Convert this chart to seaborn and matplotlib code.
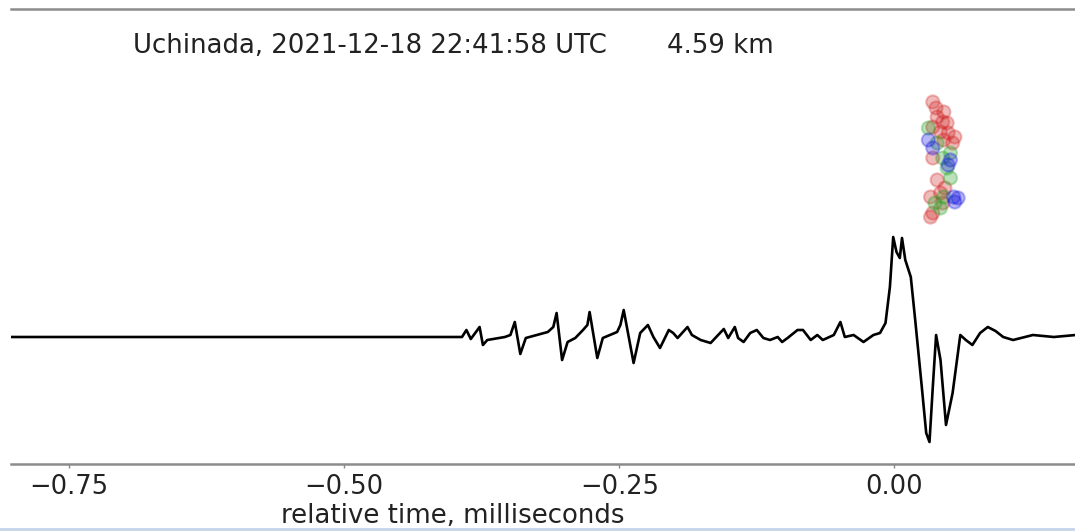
import matplotlib
matplotlib.use("Agg")
import matplotlib.pyplot as plt
from matplotlib.patches import Rectangle
import seaborn as sns
import pandas as pd

# Waveform: time (ms) relative to the return stroke, and normalised field amplitude
wave_t = [-0.803, -0.393, -0.389, -0.385, -0.377, -0.374, -0.370,
          -0.354, -0.349, -0.345, -0.340, -0.335,
          -0.315, -0.310, -0.307, -0.302, -0.297, -0.290,
          -0.283, -0.279, -0.277, -0.270, -0.265,
          -0.252, -0.249, -0.246, -0.237, -0.231,
          -0.224, -0.219, -0.213, -0.205, -0.201, -0.197, -0.188, -0.184, -0.176, -0.167,
          -0.155, -0.151, -0.145, -0.142, -0.137, -0.131, -0.125, -0.119, -0.113, -0.106,
          -0.102, -0.097, -0.088, -0.083, -0.076, -0.070, -0.065, -0.055, -0.049, -0.045,
          -0.037, -0.028, -0.019, -0.013,
          -0.008, -0.004, -0.001, 0.002, 0.005, 0.007, 0.010, 0.015, 0.019, 0.025,
          0.029, 0.032, 0.035, 0.038, 0.042, 0.047, 0.053, 0.060, 0.065, 0.071,
          0.078, 0.085, 0.092, 0.099, 0.108, 0.126, 0.145, 0.165]
wave_amp = [0.0, 0.0, 0.07, -0.02, 0.10, -0.08, -0.03,
            0.0, 0.02, 0.15, -0.17, -0.01,
            0.05, 0.10, 0.24, -0.23, -0.05, -0.01,
            0.07, 0.12, 0.25, -0.21, -0.01,
            0.05, 0.12, 0.27, -0.26, 0.04,
            0.12, 0.0, -0.11, 0.07, 0.04, -0.01, 0.10, 0.02, -0.03, -0.06,
            0.08, -0.01, 0.10, -0.01, -0.05, 0.04, 0.07, -0.01, -0.03, 0.0,
            -0.05, -0.01, 0.07, 0.07, -0.03, 0.02, -0.03, 0.02, 0.15, 0.0,
            0.02, -0.05, 0.02, 0.04,
            0.14, 0.50, 1.00, 0.85, 0.79, 0.99, 0.77, 0.60, 0.17, -0.50,
            -0.96, -1.05, -0.50, 0.02, -0.23, -0.88, -0.56, 0.02, -0.03, -0.08,
            0.04, 0.10, 0.06, 0.0, -0.03, 0.02, 0.0, 0.02]

# Located VHF sources (time, height-like coordinate) by polarisation class
red_t = [0.035, 0.038, 0.045, 0.044, 0.048, 0.039, 0.035, 0.042, 0.049, 0.055,
         0.045, 0.053, 0.035, 0.039, 0.046, 0.033, 0.044, 0.035, 0.033, 0.042]
red_h = [2.35, 2.29, 2.25, 2.15, 2.14, 2.20, 2.10, 2.05, 2.04, 2.00,
         1.97, 1.94, 1.79, 1.57, 1.49, 1.40, 1.34, 1.24, 1.20, 1.44]
green_t = [0.031, 0.039, 0.044, 0.048, 0.051, 0.037, 0.042, 0.045, 0.051]
green_h = [2.09, 1.94, 1.79, 1.69, 1.59, 1.34, 1.29, 1.40, 1.84]
blue_t = [0.031, 0.035, 0.051, 0.054, 0.058, 0.055, 0.049]
blue_h = [1.97, 1.89, 1.77, 1.40, 1.39, 1.35, 1.72]

tick_values = [-0.75, -0.50, -0.25, 0.00]
tick_labels = ["\u22120.75", "\u22120.50", "\u22120.25", "0.00"]

sns.set_theme(style="white")
plt.rcParams["font.family"] = ["DejaVu Sans"]

fig = plt.figure(figsize=(10.75, 5.31), dpi=100)
W, H = 1075, 531
ax = fig.add_axes([11 / W, (H - 464) / H, (1100 - 11) / W, (464 - 9) / H])

wave = pd.DataFrame({"t": wave_t, "amp": wave_amp})
sns.lineplot(data=wave, x="t", y="amp", ax=ax, color="black", linewidth=1.9,
             sort=False, estimator=None)

src = pd.DataFrame({
    "t": red_t + green_t + blue_t,
    "h": red_h + green_h + blue_h,
    "cls": ["r"] * len(red_t) + ["g"] * len(green_t) + ["b"] * len(blue_t),
})
sns.scatterplot(data=src, x="t", y="h", hue="cls", ax=ax,
                palette={"r": "#d02020", "g": "#20a020", "b": "#1010e0"},
                s=90, alpha=0.3, edgecolor="face", linewidth=1.5, legend=False)

ax.set_xlim(-0.803, 0.187)
ax.set_ylim(-1.27, 3.28)
ax.set_xticks(tick_values)
ax.set_xticklabels(tick_labels, fontsize=18.5, color="#222222")
ax.set_yticks([])
ax.set_xlabel("")
ax.set_ylabel("")
ax.tick_params(axis="x", bottom=True, length=3, width=1, color="#888888", pad=4)

for side in ("left", "right"):
    ax.spines[side].set_visible(False)
for side in ("top", "bottom"):
    ax.spines[side].set_color("#8c8c8c")
    ax.spines[side].set_linewidth(1.8)

fig.text(453 / W, (H - 523) / H, "relative time, milliseconds", fontsize=18.7,
         ha="center", va="baseline", color="#222222")
fig.text(133 / W, (H - 53) / H, "Uchinada, 2021-12-18 22:41:58 UTC", fontsize=18.7,
         ha="left", va="baseline", color="#222222")
fig.text(667 / W, (H - 53) / H, "4.59 km", fontsize=18.7,
         ha="left", va="baseline", color="#222222")

fig.add_artist(Rectangle((0, 0), 1, 3 / H, transform=fig.transFigure,
                         facecolor="#c9d7ea", edgecolor="none"))

fig.savefig("out.png", dpi=100)
